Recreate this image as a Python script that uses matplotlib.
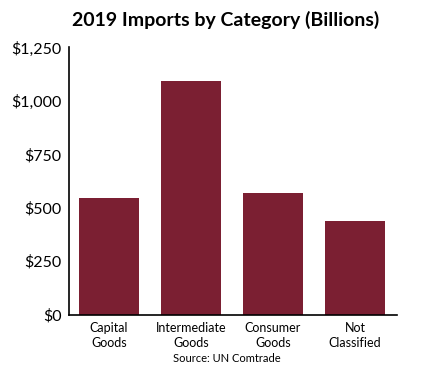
import matplotlib
matplotlib.use("Agg")
import matplotlib.pyplot as plt
from matplotlib.ticker import FuncFormatter

categories = ["Capital\nGoods", "Intermediate\nGoods", "Consumer\nGoods", "Not\nClassified"]
values = [545, 1095, 568, 437]
yticks = [0, 250, 500, 750, 1000, 1250]

plt.rcParams['font.family'] = ['Lato', 'DejaVu Sans']

fig = plt.figure(figsize=(4.23, 3.71), dpi=100)
ax = fig.add_axes([0.162, 0.152, 0.7765, 0.720])
x = range(len(categories))
ax.bar(x, values, width=0.73, color="#7B1F32")
ax.set_xlim(-0.49, 3.51)
ax.set_ylim(0, 1250)
ax.set_yticks(yticks)
ax.yaxis.set_major_formatter(FuncFormatter(lambda v, p: f"${int(v):,}"))
ax.set_xticks(list(x))
ax.set_xticklabels(categories, fontsize=9, linespacing=1.35)
ax.tick_params(axis='y', length=0, labelsize=11.5, pad=5)
ax.tick_params(axis='x', length=0, pad=5)
for s in ["top", "right"]:
    ax.spines[s].set_visible(False)
for s in ["left", "bottom"]:
    ax.spines[s].set_color("black")
    ax.spines[s].set_linewidth(1.2)

fig.text(226/423, 1 - 20/371, "2019 Imports by Category (Billions)", ha="center", va="center",
         fontsize=14, fontweight="bold")
fig.text(227/423, 1 - 358/371, "Source: UN Comtrade", ha="center", va="center", fontsize=8)

fig.savefig("out.png", dpi=100)
